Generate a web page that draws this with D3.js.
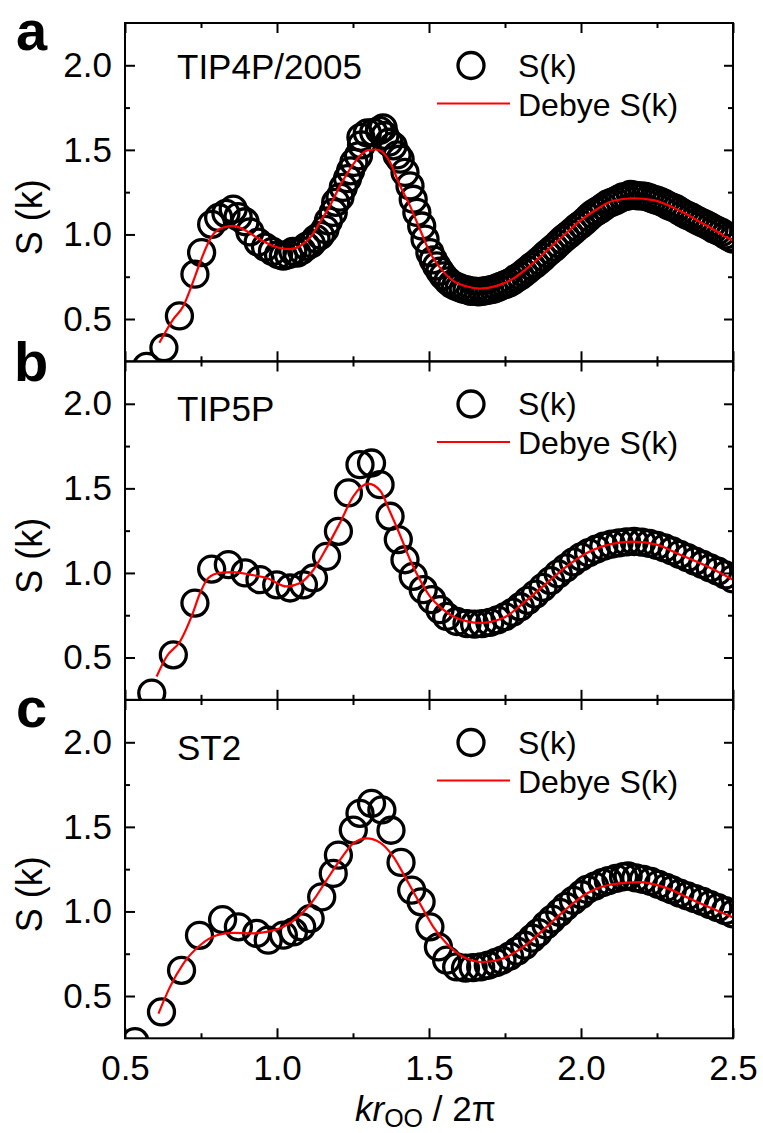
<!DOCTYPE html>
<html>
<head>
<meta charset="utf-8">
<script src="https://cdn.jsdelivr.net/npm/d3@7/dist/d3.min.js"></script>
<style>
  html, body { margin: 0; padding: 0; background: #fff; }
  svg { display: block; }
  text { font-family: "Liberation Sans", Arial, Helvetica, sans-serif; fill: #000; }
</style>
</head>
<body>
<svg id="chart" width="763" height="1133"></svg>
<script>
// ---------------- DATA ----------------
const panelLetters = ["a", "b", "c"];
const modelNames = ["TIP4P/2005", "TIP5P", "ST2"];
const xMajorTicks = [0.5, 1.0, 1.5, 2.0, 2.5];
const xMinorTicks = [0.75, 1.25, 1.75, 2.25];
const yMajorTicks = [0.5, 1.0, 1.5, 2.0];
const yMinorTicks = [0.75, 1.25, 1.75];
const legendLabels = ["S(k)", "Debye S(k)"];

// Panel a: TIP4P/2005 simulated S(k) (circles)
const kA = [0.571,0.628,0.679,0.730,0.752,0.785,0.808,0.832,0.856,0.872,0.895,0.911,0.938,0.962,0.985,1.005,1.021,1.038,1.052,1.066,1.081,1.097,1.113,1.128,1.143,1.158,1.169,1.185,1.193,1.207,1.218,1.232,1.242,1.253,1.268,1.278,1.276,1.297,1.318,1.337,1.349,1.355,1.368,1.382,1.395,1.405,1.421,1.4375,1.448,1.46,1.476,1.487,1.503,1.514,1.525,1.536,1.547,
  1.5625,1.575,1.5875,1.60,1.6125,1.625,1.6375,1.65,1.6625,1.675,1.6875,1.70,1.7125,1.725,1.7375,1.75,1.7625,1.775,1.7875,1.80,1.8125,1.825,1.8375,1.85,1.8625,1.875,1.8875,1.90,1.9125,1.925,1.9375,1.95,1.9625,1.975,1.9875,2.00,2.0125,2.025,2.0375,2.05,2.0625,2.075,2.0875,2.10,2.1125,2.125,2.1375,2.15,2.1625,2.175,2.1875,2.20,2.2125,2.225,2.2375,2.25,2.2625,2.275,2.2875,2.30,2.3125,2.325,2.3375,2.35,2.3625,2.375,2.3875,2.40,2.4125,2.425,2.4375,2.45,2.4625,2.475,2.4875,2.50];
const sA = [0.22,0.33,0.518,0.765,0.893,1.06,1.10,1.125,1.15,1.105,1.075,1.015,0.955,0.925,0.90,0.88,0.872,0.88,0.90,0.89,0.905,0.93,0.945,0.975,0.995,1.03,1.08,1.13,1.19,1.22,1.278,1.33,1.376,1.426,1.465,1.53,1.574,1.60,1.603,1.615,1.63,1.585,1.545,1.524,1.47,1.445,1.367,1.287,1.208,1.13,1.05,0.972,0.893,0.85,0.814,0.783,0.755,
  0.725,0.706,0.694,0.685,0.676,0.672,0.664,0.665,0.660,0.664,0.668,0.672,0.676,0.685,0.695,0.703,0.712,0.725,0.742,0.755,0.772,0.79,0.810,0.826,0.845,0.865,0.887,0.905,0.923,0.945,0.967,0.985,1.003,1.022,1.043,1.06,1.078,1.10,1.120,1.135,1.148,1.165,1.180,1.19,1.198,1.21,1.222,1.225,1.236,1.232,1.228,1.228,1.225,1.217,1.208,1.202,1.194,1.183,1.170,1.162,1.152,1.138,1.124,1.113,1.103,1.09,1.078,1.068,1.058,1.046,1.032,1.022,1.012,0.997,0.984,0.972];
// Panel a: Debye S(k) (red line)
const dkA = [0.613,0.659,0.692,0.719,0.747,0.769,0.790,0.823,0.856,0.889,0.933,0.988,1.043,1.076,1.109,1.141,1.174,1.207,1.240,1.273,1.300,1.325,1.345,1.372,1.405,1.4375,1.470,1.503,1.536,1.580,1.624,1.668,1.723,1.777,1.832,1.887,1.941,1.997,2.052,2.106,2.172,2.238,2.326,2.414,2.5];
const dsA = [0.36,0.50,0.577,0.696,0.834,0.932,1.0,1.041,1.051,1.031,0.982,0.932,0.913,0.932,0.982,1.071,1.169,1.287,1.386,1.465,1.498,1.502,1.49,1.426,1.287,1.169,1.031,0.893,0.804,0.725,0.692,0.680,0.696,0.739,0.814,0.903,0.991,1.080,1.149,1.199,1.214,1.203,1.139,1.051,0.962];

// Panel b: TIP5P
const kB = [0.588,0.659,0.730,0.785,0.840,0.895,0.944,0.999,1.043,1.087,1.12,1.163,1.202,1.235,1.273,1.311,1.339,1.372,1.399,1.421,1.448,1.481,1.509,1.536,1.558,1.591,
  1.625,1.65,1.675,1.70,1.725,1.75,1.775,1.80,1.825,1.85,1.875,1.90,1.925,1.95,1.975,2.00,2.025,2.05,2.075,2.10,2.125,2.15,2.175,2.20,2.225,2.25,2.275,2.30,2.325,2.35,2.375,2.40,2.425,2.45,2.475,2.50];
const sB = [0.29,0.516,0.822,1.023,1.049,1.0,0.96,0.93,0.911,0.93,0.97,1.098,1.246,1.473,1.64,1.65,1.522,1.335,1.197,1.078,0.98,0.901,0.842,0.783,0.743,0.713,
  0.70,0.697,0.70,0.708,0.722,0.742,0.768,0.80,0.838,0.875,0.915,0.955,0.995,1.03,1.065,1.095,1.12,1.14,1.158,1.17,1.178,1.184,1.186,1.182,1.175,1.163,1.148,1.13,1.11,1.09,1.07,1.05,1.03,1.01,0.988,0.965];
const dkB = [0.604,0.637,0.681,0.719,0.747,0.774,0.8125,0.856,0.911,0.966,1.032,1.076,1.12,1.163,1.207,1.251,1.300,1.339,1.372,1.405,1.4375,1.47,1.503,1.547,1.591,1.668,1.744,1.81,1.887,1.953,2.019,2.106,2.172,2.249,2.326,2.414,2.5];
const dsB = [0.388,0.506,0.595,0.743,0.881,0.97,1.0,1.005,0.99,0.97,0.92,0.94,1.019,1.148,1.296,1.453,1.528,1.487,1.36,1.223,1.078,0.96,0.861,0.783,0.733,0.704,0.733,0.822,0.94,1.039,1.118,1.173,1.185,1.167,1.108,1.039,0.96];

// Panel c: ST2
const kC = [0.533,0.62,0.686,0.745,0.821,0.873,0.933,0.971,1.021,1.054,1.081,1.109,1.147,1.185,1.202,1.251,1.273,1.311,1.345,1.375,1.408,1.443,1.474,1.503,1.531,1.558,1.591,
  1.62,1.645,1.67,1.695,1.72,1.74,1.765,1.79,1.815,1.84,1.86,1.885,1.905,1.93,1.95,1.975,2.00,2.02,2.045,2.07,2.09,2.115,2.14,2.155,2.18,2.205,2.23,2.255,2.28,2.30,2.325,2.35,2.375,2.40,2.425,2.45,2.475,2.50];
const sC = [0.23,0.406,0.652,0.859,0.952,0.909,0.87,0.83,0.86,0.879,0.909,0.958,1.086,1.225,1.333,1.481,1.58,1.639,1.60,1.48,1.29,1.126,1.057,0.909,0.79,0.712,0.672,
  0.665,0.668,0.672,0.682,0.698,0.712,0.735,0.765,0.80,0.842,0.875,0.92,0.955,0.995,1.03,1.065,1.10,1.13,1.15,1.17,1.182,1.195,1.205,1.21,1.198,1.19,1.178,1.16,1.142,1.128,1.108,1.092,1.076,1.06,1.04,1.022,1.004,0.985];
const dkC = [0.61,0.648,0.692,0.747,0.802,0.856,0.922,0.966,1.021,1.076,1.12,1.163,1.207,1.251,1.295,1.339,1.383,1.427,1.47,1.514,1.558,1.613,1.679,1.744,1.81,1.887,1.953,2.019,2.106,2.194,2.271,2.38,2.5];
const dsC = [0.396,0.554,0.692,0.80,0.859,0.873,0.87,0.879,0.909,0.978,1.067,1.185,1.303,1.402,1.432,1.407,1.323,1.185,1.047,0.909,0.81,0.731,0.701,0.722,0.79,0.909,1.017,1.106,1.161,1.173,1.145,1.057,0.964];

// ---------------- LAYOUT ----------------
const svg = d3.select("#chart");
const left = 125, right = 733;
const panelTops = [23, 361.5, 700];
const panelH = 338.3;
const FONT = "'Liberation Sans', Arial, Helvetica, sans-serif";

const x = d3.scaleLinear().domain([0.5, 2.5]).range([left, right]);

const panels = [
  {k: kA, s: sA, dk: dkA, ds: dsA},
  {k: kB, s: sB, dk: dkB, ds: dsB},
  {k: kC, s: sC, dk: dkC, ds: dsC}
];
const letterPos = [[16, 50], [14, 381], [16, 727]];
const modelY = [79, 421, 760];

function styleAxis(g) {
  g.select(".domain").remove();
  g.selectAll(".tick line").attr("stroke", "#000").attr("stroke-width", 2);
  g.selectAll(".tick text").attr("font-family", FONT).attr("font-size", 35).attr("fill", "#000");
}

panels.forEach((p, i) => {
  const top = panelTops[i], bottom = top + panelH;
  const y = d3.scaleLinear().domain([0.25, 2.25]).range([bottom, top]);
  const g = svg.append("g");

  const clipId = "clip" + i;
  svg.append("defs").append("clipPath").attr("id", clipId)
    .append("rect").attr("x", left).attr("y", top).attr("width", right - left).attr("height", panelH);

  const data = g.append("g").attr("clip-path", `url(#${clipId})`);
  data.selectAll("circle").data(p.k.map((k, j) => [k, p.s[j]])).join("circle")
    .attr("cx", d => x(d[0])).attr("cy", d => y(d[1])).attr("r", 13)
    .attr("fill", "none").attr("stroke", "#000").attr("stroke-width", 3.3);

  const line = d3.line().x(d => x(d[0])).y(d => y(d[1])).curve(d3.curveMonotoneX);
  data.append("path").datum(p.dk.map((k, j) => [k, p.ds[j]]))
    .attr("d", line).attr("fill", "none").attr("stroke", "#ff0000").attr("stroke-width", 2.2);

  // axes (ticks inward)
  const isBottom = i === 2;
  g.append("g").attr("transform", `translate(0,${bottom})`)
    .call(d3.axisBottom(x).tickValues(xMajorTicks).tickSize(-10).tickPadding(isBottom ? 17 : 0)
      .tickFormat(isBottom ? d3.format(".1f") : () => ""))
    .call(styleAxis);
  g.append("g").attr("transform", `translate(0,${bottom})`)
    .call(d3.axisBottom(x).tickValues(xMinorTicks).tickSize(-5).tickFormat(() => ""))
    .call(styleAxis);
  g.append("g").attr("transform", `translate(0,${top})`)
    .call(d3.axisTop(x).tickValues(xMajorTicks).tickSize(-10).tickFormat(() => ""))
    .call(styleAxis);
  g.append("g").attr("transform", `translate(0,${top})`)
    .call(d3.axisTop(x).tickValues(xMinorTicks).tickSize(-5).tickFormat(() => ""))
    .call(styleAxis);
  g.append("g").attr("transform", `translate(${left},0)`)
    .call(d3.axisLeft(y).tickValues(yMajorTicks).tickSize(-10).tickPadding(13).tickFormat(d3.format(".1f")))
    .call(styleAxis);
  g.append("g").attr("transform", `translate(${left},0)`)
    .call(d3.axisLeft(y).tickValues(yMinorTicks).tickSize(-5).tickFormat(() => ""))
    .call(styleAxis);
  g.append("g").attr("transform", `translate(${right},0)`)
    .call(d3.axisRight(y).tickValues(yMajorTicks).tickSize(-9).tickFormat(() => ""))
    .call(styleAxis);
  g.append("g").attr("transform", `translate(${right},0)`)
    .call(d3.axisRight(y).tickValues(yMinorTicks).tickSize(-5).tickFormat(() => ""))
    .call(styleAxis);

  // frame
  g.append("rect").attr("x", left).attr("y", top).attr("width", right - left).attr("height", panelH)
    .attr("fill", "none").attr("stroke", "#000").attr("stroke-width", 2);

  // panel letter
  g.append("text").attr("x", letterPos[i][0]).attr("y", letterPos[i][1])
    .attr("font-size", 56).attr("font-weight", "bold").text(panelLetters[i]);

  // model name
  g.append("text").attr("x", 177).attr("y", modelY[i]).attr("font-size", 35).text(modelNames[i]);

  // legend
  const ly = top + 42.5;
  g.append("circle").attr("cx", 471).attr("cy", ly).attr("r", 13)
    .attr("fill", "none").attr("stroke", "#000").attr("stroke-width", 3.3);
  g.append("text").attr("x", 518).attr("y", ly + 11).attr("font-size", 32).text(legendLabels[0]);
  g.append("line").attr("x1", 437).attr("x2", 510).attr("y1", ly + 38).attr("y2", ly + 38)
    .attr("stroke", "#ff0000").attr("stroke-width", 2.2);
  g.append("text").attr("x", 518).attr("y", ly + 50).attr("font-size", 32).text(legendLabels[1]);

  // y label
  const cy = (top + bottom) / 2 + 25;
  g.append("text").attr("transform", `translate(42,${cy}) rotate(-90)`)
    .attr("text-anchor", "middle").attr("font-size", 36).text("S (k)");
});

// x-axis title
const xt = svg.append("text").attr("x", 355).attr("y", 1121).attr("font-size", 35);
xt.append("tspan").attr("font-style", "italic").text("kr");
xt.append("tspan").attr("font-size", 25).attr("dy", 6).text("OO");
xt.append("tspan").attr("dy", -6).text(" / 2π");
</script>
</body>
</html>
